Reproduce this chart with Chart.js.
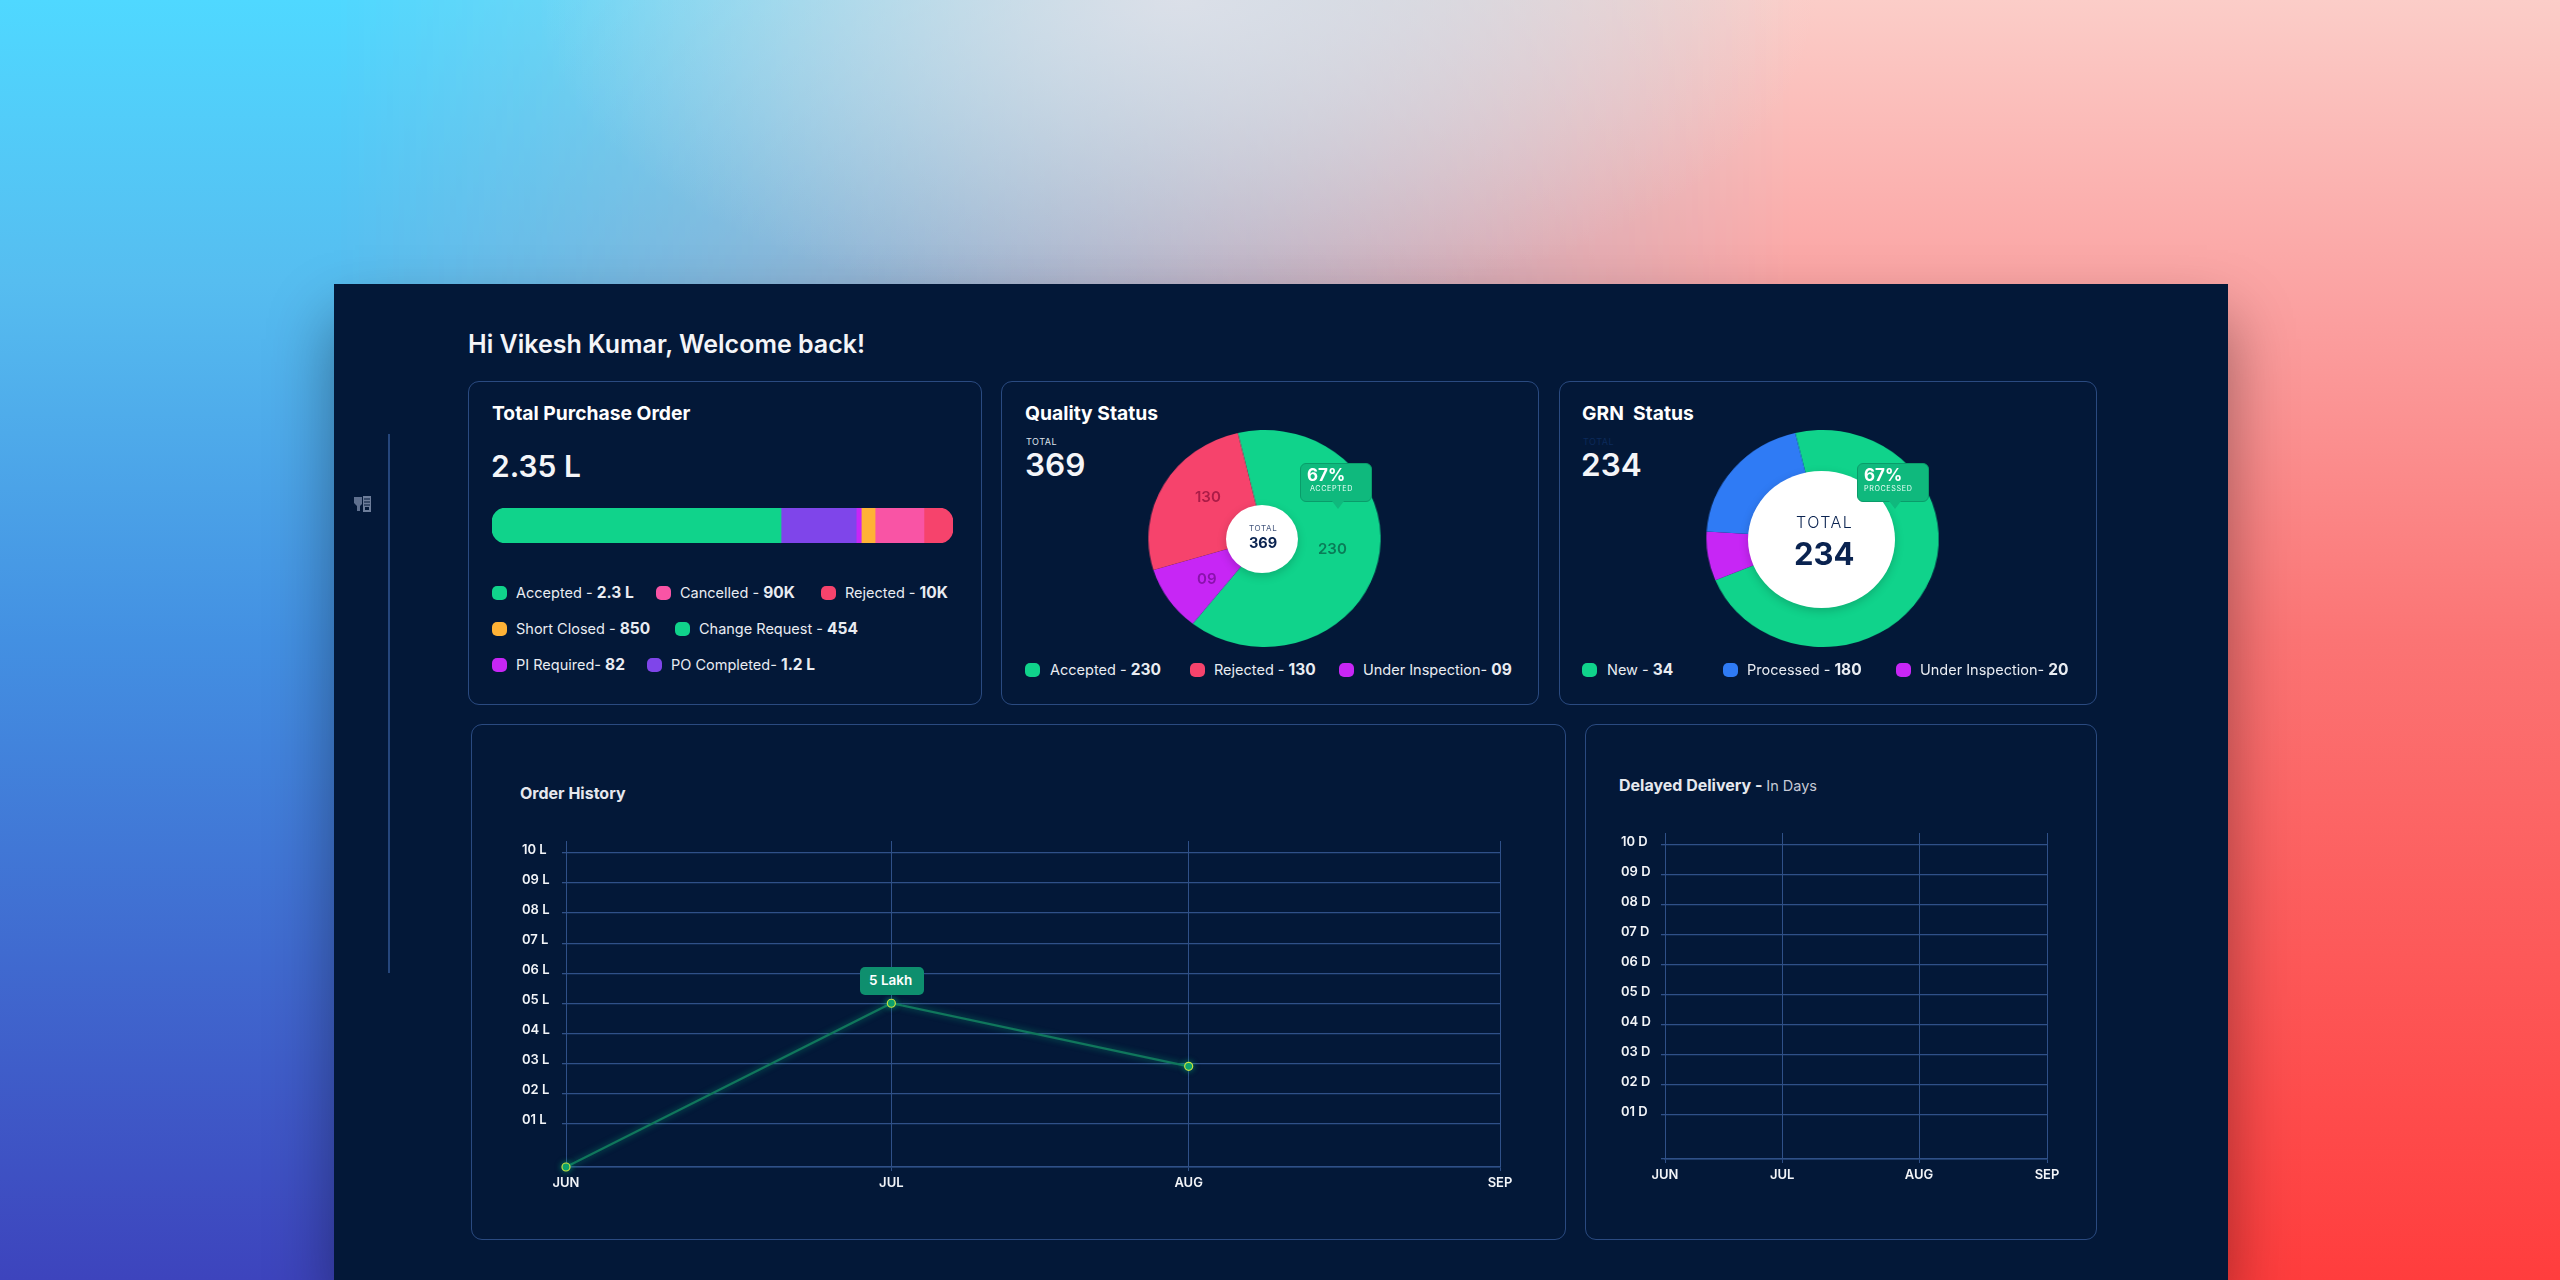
<!DOCTYPE html>
<html>
<head>
<meta charset="utf-8">
<title>Dashboard</title>
<script src="https://cdn.jsdelivr.net/npm/chart.js@4/dist/chart.umd.js"></script>
<style>
  html, body { margin: 0; width: 2560px; height: 1280px; overflow: hidden; font-family: Inter, "Noto Sans", sans-serif; color: #fff; }
  .bg { position: absolute; inset: 0; }
  #bgLeft { background: linear-gradient(180deg, #4fd8ff 0%, #56bdf0 22%, #4390e2 50%, #3d44bd 100%); }
  #bgRight { background: linear-gradient(180deg, #fbcdc8 0%, #fb9f9f 25%, #fb7474 50%, #ff3d3d 100%);
             -webkit-mask-image: linear-gradient(90deg, transparent 13%, #000 70%); mask-image: linear-gradient(90deg, transparent 13%, #000 70%); }
  #bgMid { background: radial-gradient(ellipse 640px 320px at 46% 0, rgba(226,226,234,.85), rgba(226,226,234,0)); }
  #panel { position: absolute; left: 334px; top: 284px; width: 1894px; height: 996px; background: #031838; box-shadow: 0 34px 60px rgba(0,0,0,.38); }
  #stage { position: absolute; inset: 0; }
  .card { position: absolute; box-sizing: border-box; border: 1.5px solid #2a4a80; border-radius: 11px; }
  .t { position: absolute; transform: translateY(-50%); white-space: nowrap; line-height: 1; }
  .swatch { position: absolute; width: 15px; height: 14px; border-radius: 5px; transform: translateY(-50%); }
  .tip { position: absolute; box-sizing: border-box; background: #0fb97d; border: 1px solid #0a9c6a; border-radius: 6px; }
  .tip::after { content: ""; position: absolute; left: 31px; bottom: -8px; width: 0; height: 0; border-left: 6px solid transparent; border-right: 6px solid transparent; border-top: 8px solid #0fb97d; }
  canvas { position: absolute; display: block; }
</style>
</head>
<body>
<div class="bg" id="bgLeft"></div>
<div class="bg" id="bgRight"></div>
<div class="bg" id="bgMid"></div>
<div id="panel"></div>
<div id="stage">
  <div style="position:absolute;left:388px;top:434px;width:1.5px;height:539px;background:#25467c"></div>
  <svg style="position:absolute;left:353px;top:494px" width="20" height="20" viewBox="0 0 20 20">
    <path d="M1 3h8v7l-2 2v5H4v-5L1 9z" fill="#5f708f"/>
    <rect x="10" y="2" width="8" height="16" fill="#6d7d9a"/>
    <path d="M11 5h6M11 8h6M11 11h6" stroke="#031838" stroke-width="1"/>
    <rect x="12" y="13" width="4" height="3" fill="#031838"/>
  </svg>

  <div class="card" style="left:468px;top:381px;width:514px;height:324px"></div>
  <div class="card" style="left:1001px;top:381px;width:538px;height:324px"></div>
  <div class="card" style="left:1559px;top:381px;width:538px;height:324px"></div>
  <div class="card" style="left:471px;top:724px;width:1095px;height:516px"></div>
  <div class="card" style="left:1585px;top:724px;width:512px;height:516px"></div>

  <canvas id="purchaseBar" width="461" height="35" style="left:492px;top:508px"></canvas>
  <canvas id="qualityPie" width="217" height="217" style="left:1156px;top:430px;transform:scaleX(1.07)"></canvas>
  <canvas id="grnPie" width="217" height="217" style="left:1714px;top:430px;transform:scaleX(1.07)"></canvas>
  <canvas id="orderChart" width="1000" height="370" style="left:522px;top:830px"></canvas>
  <canvas id="delayChart" width="450" height="370" style="left:1621px;top:822px"></canvas>

  <div style="position:absolute;left:1226px;top:505px;width:72px;height:68px;border-radius:50%;background:#fff;box-shadow:0 3px 10px rgba(0,0,0,.18)"></div>
  <div style="position:absolute;left:1748px;top:471px;width:147px;height:137px;border-radius:50%;background:#fff;box-shadow:0 3px 10px rgba(0,0,0,.18)"></div>
  <div class="tip" style="left:1300px;top:463px;width:72px;height:39px"></div>
  <div class="tip" style="left:1857px;top:463px;width:72px;height:39px"></div>
  <div style="position:absolute;left:860px;top:967px;width:64px;height:28px;border-radius:5px;background:#0e8f6e"></div>
</div>

<script>
// panel data
const purchaseLabels = ['Accepted -', 'Cancelled -', 'Rejected -', 'Short Closed -', 'Change Request -', 'PI Required-', 'PO Completed-'];
const purchaseAmounts = ['2.3 L', '90K', '10K', '850', '454', '82', '1.2 L'];
const purchaseColors = ['#10d38b', '#f954a5', '#f6436c', '#ffb236', '#10d38b', '#c726f5', '#7f45ea'];

// bar segments, share of the bar in %, left to right
const barSegments = ['Accepted', 'PO Completed', 'PI Required', 'Short Closed', 'Cancelled', 'Rejected'];
const barShares = [62.7, 16.3, 1.1, 3.0, 10.6, 6.3];
const barColors = ['#10d38b', '#7f45ea', '#c726f5', '#ffb236', '#f954a5', '#f6436c'];

const qualityLabels = ['Accepted -', 'Rejected -', 'Under Inspection-'];
const qualityAmounts = ['230', '130', '09'];
const qualityColors = ['#10d38b', '#f6436c', '#c726f5'];
// slice sizes as drawn, clockwise (%)
const qualitySlices = [64.3, 9.7, 26.0];
const qualitySliceColors = ['#10d38b', '#c726f5', '#f6436c'];

const grnLabels = ['New -', 'Processed -', 'Under Inspection-'];
const grnAmounts = ['34', '180', '20'];
const grnColors = ['#10d38b', '#2f7bf5', '#c726f5'];
const grnSlices = [72.5, 7.3, 20.2];
const grnSliceColors = ['#10d38b', '#c726f5', '#2f7bf5'];

const months = ['JUN', 'JUL', 'AUG', 'SEP'];
// the month columns are not evenly spaced in the picture
const orderMonthPos = [0, 1.045, 2, 3];
const delayMonthPos = [0, 0.92, 1.995, 3];
const orderValues = [0, 5, 2.9];
const delayValues = [];
const yTicks = [0, 1, 2, 3, 4, 5, 6, 7, 8, 9, 10];
const orderTickLabels = ['', '01 L', '02 L', '03 L', '04 L', '05 L', '06 L', '07 L', '08 L', '09 L', '10 L'];
const delayTickLabels = ['', '01 D', '02 D', '03 D', '04 D', '05 D', '06 D', '07 D', '08 D', '09 D', '10 D'];

const GRID = '#2f5088';
const stage = document.getElementById('stage');

function put(html, x, y, css) {
    const el = document.createElement('div');
    el.className = 't';
    el.innerHTML = html;
    el.style.cssText = `left:${x}px;top:${y}px;${css}`;
    stage.appendChild(el);
}

function legendItem(label, amount, color, swatchX, textX, y) {
    const sw = document.createElement('div');
    sw.className = 'swatch';
    sw.style.cssText = `left:${swatchX}px;top:${y}px;background:${color}`;
    stage.appendChild(sw);
    put(`${label} <b style="font-size:15.5px;font-weight:700">${amount}</b>`, textX, y, 'font-size:14.5px;color:#e9ecf2');
}

const H1 = 'font-weight:700;font-size:19.3px;color:#fff';
put('Hi Vikesh Kumar, Welcome back!', 468, 344, 'font-weight:600;font-size:25px;color:#f4f5f8');
put('Total Purchase Order', 492, 414, H1);
put('2.35 L', 491, 466, 'font-weight:600;font-size:30px;color:#f4f5f8');
put('Quality Status', 1025, 414, H1);
put('TOTAL', 1026, 441, 'font-size:9px;letter-spacing:.5px;color:#dfe3ea');
put('369', 1025, 465, 'font-weight:600;font-size:31.5px;color:#f4f5f8');
put('GRN&nbsp; Status', 1582, 414, H1);
put('TOTAL', 1583, 441, 'font-size:9px;letter-spacing:.5px;color:#0c2a5a');
put('234', 1581, 465, 'font-weight:600;font-size:31.5px;color:#f4f5f8');

// purchase legend, three rows
const legendRows = [593, 593, 593, 629, 629, 665, 665];
const legendSwatchX = [492, 656, 821, 492, 675, 492, 647];
const legendTextX = [516, 680, 845, 516, 699, 516, 671];
purchaseLabels.forEach((label, i) => {
    legendItem(label, purchaseAmounts[i], purchaseColors[i], legendSwatchX[i], legendTextX[i], legendRows[i]);
});

const qualitySwatchX = [1025, 1190, 1339];
const qualityTextX = [1050, 1214, 1363];
qualityLabels.forEach((label, i) => {
    legendItem(label, qualityAmounts[i], qualityColors[i], qualitySwatchX[i], qualityTextX[i], 670);
});

const grnSwatchX = [1582, 1723, 1896];
const grnTextX = [1607, 1747, 1920];
grnLabels.forEach((label, i) => {
    legendItem(label, grnAmounts[i], grnColors[i], grnSwatchX[i], grnTextX[i], 670);
});

// slice values on the pie
put('130', 1195, 496, 'font-weight:600;font-size:15px;color:#ab1c47');
put('230', 1318, 548, 'font-weight:600;font-size:15px;color:#0a7c58');
put('09', 1197, 578, 'font-weight:600;font-size:15px;color:#8a12ad');
put('TOTAL', 1249, 528, 'font-size:8px;letter-spacing:.6px;color:#42557c');
put('369', 1249, 543, 'font-weight:700;font-size:14.5px;color:#0a2350');
put('TOTAL', 1796, 522, 'font-weight:300;font-size:16px;letter-spacing:1.5px;color:#0a2350');
put('234', 1794, 553, 'font-weight:700;font-size:31px;color:#0a2350');
put('67%', 1307, 475, 'font-weight:700;font-size:17px;color:#fff');
put('ACCEPTED', 1310, 489, 'font-size:7.2px;letter-spacing:.6px;color:#eafff6');
put('67%', 1864, 475, 'font-weight:700;font-size:17px;color:#fff');
put('PROCESSED', 1864, 489, 'font-size:7.2px;letter-spacing:.6px;color:#eafff6');

put('Order History', 520, 793, 'font-weight:700;font-size:16px;color:#e6e8ee');
put('Delayed Delivery - <span style="font-weight:400;font-size:14.5px;color:#c6cad6">In Days</span>', 1619, 785, 'font-weight:700;font-size:16px;color:#e6e8ee');
put('5 Lakh', 869, 981, 'font-weight:600;font-size:13.5px;color:#fff');

// stacked bar
new Chart(document.getElementById('purchaseBar'), {
    type: 'bar',
    data: {
        labels: ['Purchase'],
        datasets: barSegments.map((name, i) => ({
            label: name,
            data: [barShares[i]],
            backgroundColor: barColors[i],
            borderSkipped: false,
            borderRadius: i === 0 ? { topLeft: 14, bottomLeft: 14 }
                : i === barSegments.length - 1 ? { topRight: 14, bottomRight: 14 } : 0,
            barPercentage: 1,
            categoryPercentage: 1
        }))
    },
    options: {
        indexAxis: 'y',
        responsive: false,
        animation: false,
        plugins: { legend: { display: false }, tooltip: { enabled: false } },
        scales: {
            x: { stacked: true, min: 0, max: 100, display: false },
            y: { stacked: true, display: false }
        }
    }
});

function makePie(id, slices, colors, cutout, rotation) {
    new Chart(document.getElementById(id), {
        type: 'doughnut',
        data: { datasets: [{ data: slices, backgroundColor: colors, borderWidth: 0 }] },
        options: {
            responsive: false,
            animation: false,
            cutout: cutout,
            rotation: rotation,
            plugins: { legend: { display: false }, tooltip: { enabled: false } }
        }
    });
}
makePie('qualityPie', qualitySlices, qualitySliceColors, '28%', -13.3);
makePie('grnPie', grnSlices, grnSliceColors, '60%', -13.6);

// the last step down to zero is drawn taller than the others
class StretchedScale extends Chart.LinearScale {
    static id = 'stretched';
    getPixelForValue(value) {
        const low = this.options.min;
        return super.getPixelForValue(value < 1 ? low + value * (1 - low) : value);
    }
}
Chart.register(StretchedScale);

const lineGlow = {
    id: 'lineGlow',
    beforeDatasetDraw(chart) {
        chart.ctx.save();
        chart.ctx.shadowColor = 'rgba(16,211,139,.5)';
        chart.ctx.shadowBlur = 6;
    },
    afterDatasetDraw(chart) {
        chart.ctx.restore();
    }
};

function makeLine(id, values, monthPos, tickLabels, yMin, yWidth, xHeight, padRight, padTop, fontSize) {
    new Chart(document.getElementById(id), {
        type: 'line',
        data: {
            datasets: [{
                data: values.map((v, i) => ({ x: monthPos[i], y: v })),
                borderColor: '#10775c',
                borderWidth: 2.2,
                tension: 0,
                clip: false,
                pointRadius: 4,
                pointBackgroundColor: '#0e9d6a',
                pointBorderColor: '#c9e23f',
                pointBorderWidth: 1.2
            }]
        },
        options: {
            responsive: false,
            animation: false,
            layout: { padding: { right: padRight, top: padTop, left: 0, bottom: 0 } },
            plugins: { legend: { display: false }, tooltip: { enabled: false } },
            scales: {
                x: {
                    type: 'linear',
                    min: 0,
                    max: 3,
                    afterBuildTicks: s => { s.ticks = monthPos.map(v => ({ value: v })); },
                    afterFit: s => { s.height = xHeight; },
                    grid: { color: GRID, lineWidth: 1, tickLength: 4 },
                    border: { color: GRID, width: 1.5 },
                    ticks: {
                        autoSkip: false,
                        maxRotation: 0,
                        padding: 4,
                        color: '#f2f4f8',
                        font: { family: 'Inter', size: fontSize, weight: '600' },
                        callback: (v, i) => months[i]
                    }
                },
                y: {
                    type: 'stretched',
                    min: yMin,
                    max: 10.4,
                    afterBuildTicks: s => { s.ticks = yTicks.map(v => ({ value: v })); },
                    afterFit: s => { s.width = yWidth; },
                    grid: { color: GRID, lineWidth: 1.3, tickLength: 4 },
                    border: { color: GRID, width: 1 },
                    ticks: {
                        autoSkip: false,
                        crossAlign: 'far',
                        labelOffset: -3,
                        color: '#f2f4f8',
                        font: { family: 'Inter', size: fontSize, weight: '600' },
                        callback: (v, i) => tickLabels[i]
                    }
                }
            }
        },
        plugins: [lineGlow]
    });
}
makeLine('orderChart', orderValues, orderMonthPos, orderTickLabels, -0.45, 44, 33, 22, 11, 13);
makeLine('delayChart', delayValues, delayMonthPos, delayTickLabels, -0.467, 44, 33, 24, 11, 13);
</script>
</body>
</html>
